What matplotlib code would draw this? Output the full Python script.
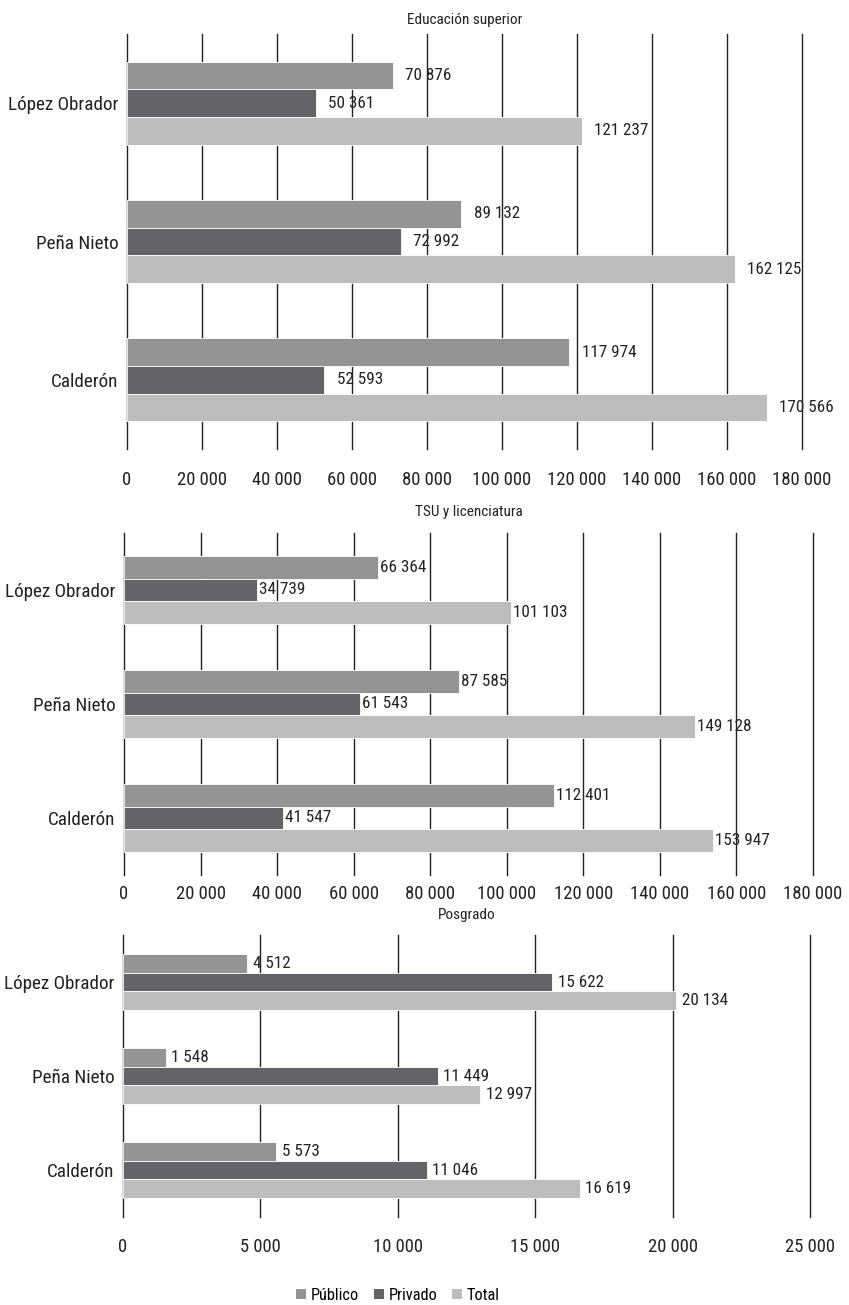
import matplotlib
matplotlib.use("Agg")
import matplotlib.pyplot as plt
from matplotlib.patches import Patch
from matplotlib import font_manager

# condensed face if there is one, else a plain sans at a smaller size
disponibles = {f.name for f in font_manager.fontManager.ttflist}
narrow = [n for n in ["Liberation Sans Narrow", "Roboto Condensed", "Open Sans Condensed",
                      "Noto Sans Condensed", "DejaVu Sans Condensed"] if n in disponibles]
if narrow:
    plt.rcParams['font.family'] = [narrow[0], 'DejaVu Sans']
    escala = 1.0
else:
    plt.rcParams['font.family'] = ['Liberation Sans', 'DejaVu Sans']
    escala = 0.84

presidentes = ["López Obrador", "Peña Nieto", "Calderón"]
series = ["Público", "Privado", "Total"]
colores = ["#939496", "#636467", "#bcbdbf"]

sup_publico = [70876, 89132, 117974]
sup_privado = [50361, 72992, 52593]
sup_total = [121237, 162125, 170566]

tsu_publico = [66364, 87585, 112401]
tsu_privado = [34739, 61543, 41547]
tsu_total = [101103, 149128, 153947]

pos_publico = [4512, 1548, 5573]
pos_privado = [15622, 11449, 11046]
pos_total = [20134, 12997, 16619]

ticks_grandes = [0, 20000, 40000, 60000, 80000, 100000, 120000, 140000, 160000, 180000]
ticks_posgrado = [0, 5000, 10000, 15000, 20000, 25000]


def fmt(v):
    return f"{v:,}".replace(",", " ")


def panel(fig, rect, titulo, titulo_y, datos, ticks, pad_ticks, off):
    ax = fig.add_axes(rect)
    h = 0.2
    for k, (vals, col) in enumerate(zip(datos, colores)):
        ys = [2 - i + h * (1 - k) for i in range(len(presidentes))]
        ax.barh(ys, vals, height=h, color=col, edgecolor="white", linewidth=0.6, zorder=2)
        for y, v in zip(ys, vals):
            ax.annotate(fmt(v), (v, y), xytext=(off, 0), textcoords="offset points",
                        va="center", ha="left", fontsize=12.3 * escala, color="#222222", zorder=3)
    ax.set_xlim(ticks[0], ticks[-1])
    ax.set_ylim(-0.5, 2.5)
    ax.set_xticks(ticks)
    ax.set_xticklabels([fmt(t) for t in ticks], fontsize=13.4 * escala, color="#222222")
    ax.set_yticks([2, 1, 0])
    ax.set_yticklabels(presidentes, fontsize=13.8 * escala, color="#222222")
    ax.tick_params(axis="x", length=0, pad=pad_ticks)
    ax.tick_params(axis="y", length=0, pad=6)
    for s in ax.spines.values():
        s.set_visible(False)
    ax.xaxis.grid(True, color="#222222", linewidth=1.0, zorder=0)
    for gl in ax.get_xgridlines():
        gl.set_clip_on(False)
    ax.set_axisbelow(True)
    fig.text(rect[0] + rect[2] / 2, titulo_y, titulo, ha="center", va="center",
             fontsize=11 * escala, color="#222222")
    return ax


fig = plt.figure(figsize=(8.49, 13.05), dpi=100)

panel(fig, [0.1496, 0.6559, 0.795, 0.318], "Educación superior", 1 - 20 / 1305,
      [sup_publico, sup_privado, sup_total], ticks_grandes, 16, 9)
panel(fig, [0.1461, 0.3295, 0.8115, 0.2621], "TSU y licenciatura", 1 - 512 / 1305,
      [tsu_publico, tsu_privado, tsu_total], ticks_grandes, 7, 1.5)
panel(fig, [0.1449, 0.0674, 0.8092, 0.2161], "Posgrado", 1 - 915 / 1305,
      [pos_publico, pos_privado, pos_total], ticks_posgrado, 15, 4)

handles = [Patch(facecolor=c, edgecolor="none") for c in colores]
fig.legend(handles, series, loc="center", bbox_to_anchor=(398 / 849, 1 - 1295 / 1305),
           ncol=3, frameon=False, fontsize=11.8 * escala, handlelength=0.6, handleheight=0.6,
           handletextpad=0.3, columnspacing=0.9)

fig.savefig("out.png", dpi=100)
